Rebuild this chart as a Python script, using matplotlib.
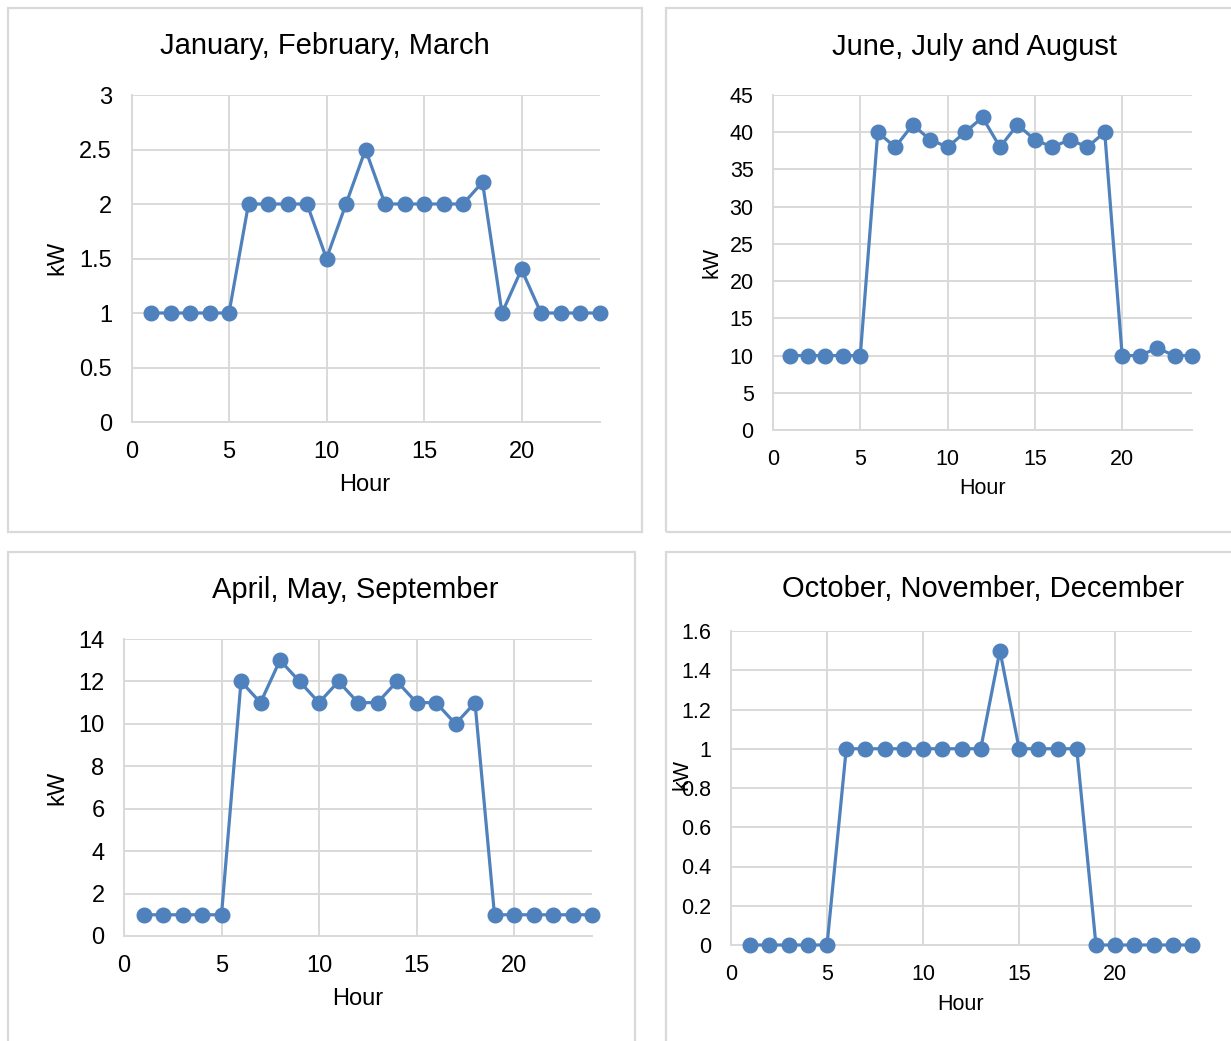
import matplotlib
matplotlib.use("Agg")
import matplotlib.pyplot as plt
from matplotlib.patches import Rectangle
from matplotlib.ticker import FuncFormatter, MultipleLocator

plt.rcParams['font.family'] = ['Liberation Sans', 'DejaVu Sans']

W, H = 1231, 1041

hours = list(range(1, 25))

jan_feb_mar = [1, 1, 1, 1, 1, 2, 2, 2, 2, 1.5, 2, 2.5, 2, 2, 2, 2, 2, 2.2, 1, 1.4, 1, 1, 1, 1]
jun_jul_aug = [10, 10, 10, 10, 10, 40, 38, 41, 39, 38, 40, 42, 38, 41, 39, 38, 39, 38, 40, 10, 10, 11, 10, 10]
apr_may_sep = [1, 1, 1, 1, 1, 12, 11, 13, 12, 11, 12, 11, 11, 12, 11, 11, 10, 11, 1, 1, 1, 1, 1, 1]
oct_nov_dec = [0, 0, 0, 0, 0, 1, 1, 1, 1, 1, 1, 1, 1, 1.5, 1, 1, 1, 1, 0, 0, 0, 0, 0, 0]

titles = ["January, February, March", "June, July and August",
          "April, May, September", "October, November, December"]

LINE = '#4F81BD'
GRID = '#D9D9D9'

fig = plt.figure(figsize=(W / 100, H / 100), dpi=100)
fig.patch.set_facecolor('white')


def frac_rect(x0, y0, x1, y1):
    return [x0 / W, 1 - y1 / H, (x1 - x0) / W, (y1 - y0) / H]


def ftext(x, y, s, size, **kw):
    fig.text(x / W, 1 - y / H, s, fontsize=size, ha='center', va='center', **kw)


# panel frames (left, top, right, bottom in pixels)
frames = [(8, 8, 642, 532), (666, 8, 1240, 532), (8, 552, 635, 1050), (666, 552, 1240, 1050)]
for x0, y0, x1, y1 in frames:
    fig.patches.append(Rectangle((x0 / W, 1 - y1 / H), (x1 - x0) / W, (y1 - y0) / H,
                                 transform=fig.transFigure, fill=False,
                                 edgecolor=GRID, linewidth=1.6, zorder=0))

panels = [
    dict(data=jan_feb_mar, box=(131.5, 95, 599.5, 422), ymax=3, step=0.5, fs=17,
         title=(325, 46), xlab=(365, 485), ylab=(57, 258)),
    dict(data=jun_jul_aug, box=(773, 95, 1192, 430), ymax=45, step=5, fs=15.5,
         title=(975, 47), xlab=(983, 488), ylab=(712, 262)),
    dict(data=apr_may_sep, box=(124, 639, 592, 936), ymax=14, step=2, fs=17,
         title=(355, 590), xlab=(358, 999), ylab=(57, 788)),
    dict(data=oct_nov_dec, box=(731, 631, 1192, 945), ymax=1.6, step=0.2, fs=15.5,
         title=(983, 589), xlab=(961, 1004), ylab=(682, 775)),
]

fmt = FuncFormatter(lambda v, p: f"{round(v, 6):g}")

for p, title in zip(panels, titles):
    ax = fig.add_axes(frac_rect(*p['box']))
    ax.plot(hours, p['data'], color=LINE, linewidth=2.3, marker='o',
            markersize=10.5, markerfacecolor=LINE, markeredgecolor=LINE,
            clip_on=False, zorder=3)
    ax.set_xlim(0, 24)
    ax.set_ylim(0, p['ymax'])
    ax.xaxis.set_major_locator(MultipleLocator(5))
    ax.yaxis.set_major_locator(MultipleLocator(p['step']))
    ax.yaxis.set_major_formatter(fmt)
    ax.xaxis.set_major_formatter(fmt)
    ax.grid(True, color=GRID, linewidth=1.4)
    ax.set_axisbelow(True)
    for side in ('top', 'right'):
        ax.spines[side].set_visible(False)
    for side in ('left', 'bottom'):
        ax.spines[side].set_color(GRID)
        ax.spines[side].set_linewidth(1.4)
    ax.tick_params(axis='both', length=0, labelsize=p['fs'], colors='black')
    ax.tick_params(axis='y', pad=14)
    ax.tick_params(axis='x', pad=14)
    ftext(*p['title'], title, 21)
    ftext(*p['xlab'], "Hour", p['fs'])
    ftext(*p['ylab'], "kW", p['fs'], rotation=90)

fig.savefig("out.png", dpi=100)
